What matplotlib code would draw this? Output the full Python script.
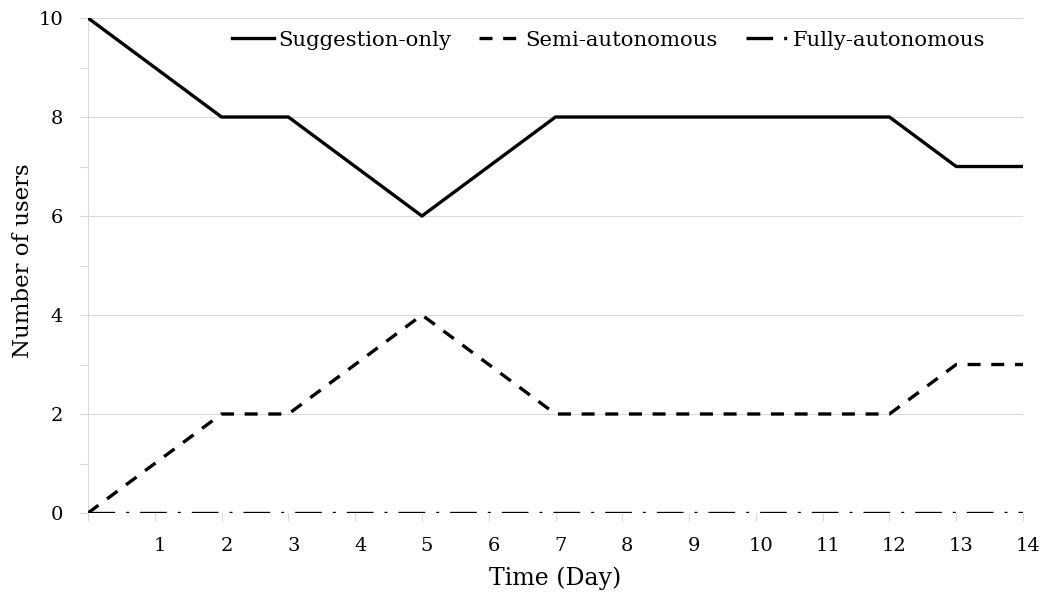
import matplotlib
matplotlib.use("Agg")
import matplotlib.pyplot as plt
import matplotlib.transforms as mtransforms

days = list(range(0, 15))
suggestion_only = [10, 9, 8, 8, 7, 6, 7, 8, 8, 8, 8, 8, 8, 7, 7]
semi_autonomous = [0, 1, 2, 2, 3, 4, 3, 2, 2, 2, 2, 2, 2, 3, 3]
fully_autonomous = [0, 0, 0, 0, 0, 0, 0, 0, 0, 0, 0, 0, 0, 0, 0]
series_names = ["Suggestion-only", "Semi-autonomous", "Fully-autonomous"]
x_ticks = list(range(1, 15))
x_ticklabels = [str(d) for d in x_ticks]
y_ticks = [0, 2, 4, 6, 8, 10]
y_ticklabels = ["0", "2", "4", "6", "8", "10"]

plt.rcParams['font.family'] = ['DejaVu Serif', 'Liberation Serif']

fig = plt.figure(figsize=(10.43, 5.97), dpi=100)
ax = fig.add_axes([88/1043, 1-513/597, (1023-88)/1043, (513-18)/597])

ax.set_xlim(0, 14)
ax.set_ylim(0, 10)

grid_c = "#d9d9d9"
for y in y_ticks:
    ax.axhline(y, color=grid_c, lw=0.8, zorder=0)

LW = 2.4
ax.plot(days, suggestion_only, color="black", lw=LW, label=series_names[0],
        solid_joinstyle="miter", zorder=3)
ax.plot(days, semi_autonomous, color="black", lw=LW, linestyle=(0, (3.9, 3.2)),
        label=series_names[1], zorder=3)
ax.plot(days, fully_autonomous, color="black", lw=LW,
        linestyle=(0, (8, 3.3, 0.9, 3.3)), label=series_names[2], zorder=3)

for s in ["top", "right", "bottom"]:
    ax.spines[s].set_visible(False)
ax.spines["left"].set_color(grid_c)
ax.spines["left"].set_linewidth(0.8)

ax.set_xticks(x_ticks)
ax.set_xticklabels(x_ticklabels, fontsize=14)
ax.set_xticks([0], minor=True)
ax.set_yticks(y_ticks)
ax.set_yticklabels(y_ticklabels, fontsize=14)
ax.set_yticks([1, 3, 5, 7, 9], minor=True)
ax.tick_params(axis="both", which="both", color=grid_c, width=0.8, length=6)
ax.tick_params(axis="x", pad=11)
ax.tick_params(axis="y", pad=12)

offset = mtransforms.ScaledTranslation(5/100, 0, fig.dpi_scale_trans)
for lab in ax.get_xticklabels():
    lab.set_transform(lab.get_transform() + offset)

ax.set_xlabel("Time (Day)", fontsize=17)
ax.set_ylabel("Number of users", fontsize=16.5)
ax.xaxis.set_label_coords((555-88)/935, (513-566)/495)
ax.yaxis.set_label_coords((34-88)/935, (513-261)/495)

leg = ax.legend(loc="center right", ncol=3, frameon=False, fontsize=15.3,
                handlelength=2.0, handletextpad=0.2, columnspacing=1.3,
                bbox_to_anchor=(1004/1043, 1-40/597),
                bbox_transform=fig.transFigure)

fig.savefig("out.png", dpi=100)
